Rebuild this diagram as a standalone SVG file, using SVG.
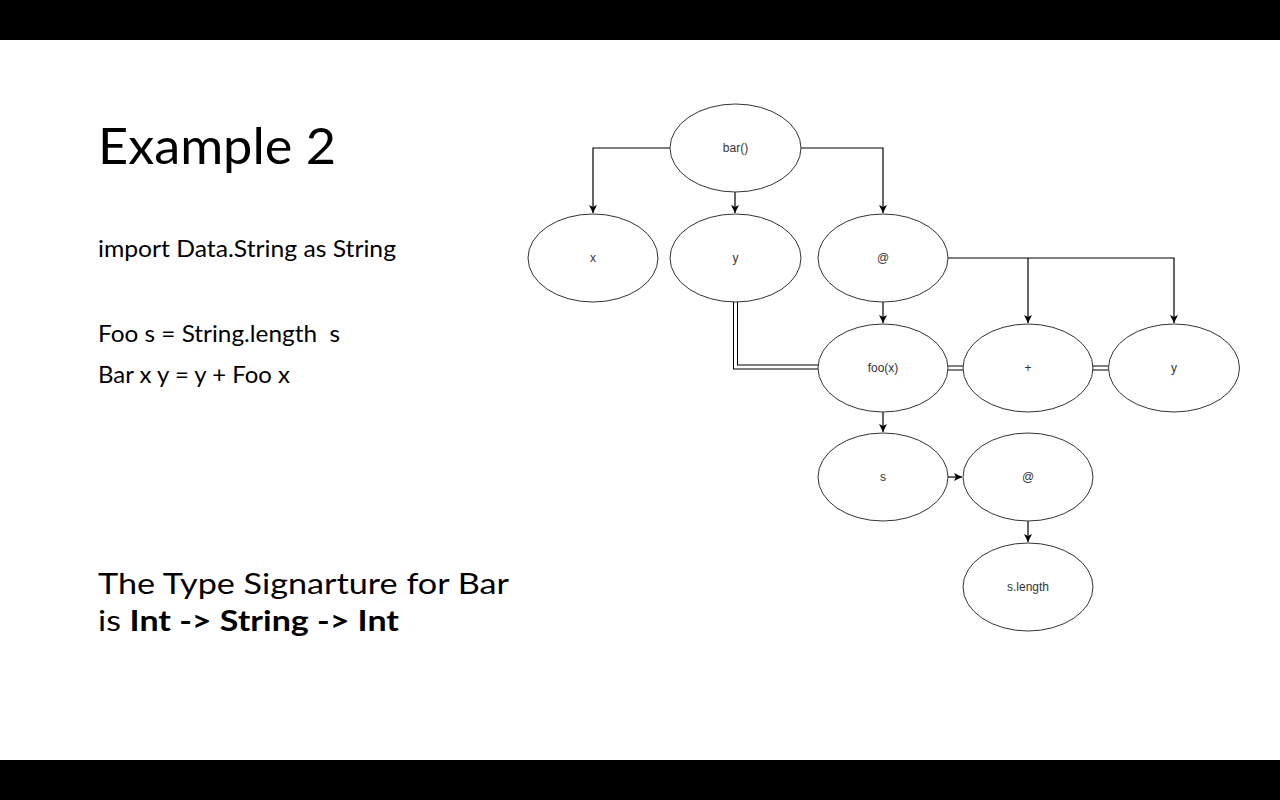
<svg xmlns="http://www.w3.org/2000/svg" width="1280" height="800" viewBox="0 0 1280 800">
  <style>
    .node ellipse { fill: #ffffff; stroke: #333333; stroke-width: 1; }
    .node text { font-family: "Liberation Sans", Arial, sans-serif; font-size: 12px; fill: #333333; text-anchor: middle; }
    .edge { fill: none; stroke: #000000; stroke-width: 1.2; }
    .dbl-outer { fill: none; stroke: #000000; stroke-width: 5; }
    .dbl-inner { fill: none; stroke: #ffffff; stroke-width: 3; }
    .slide { font-family: Lato, "Open Sans", "Liberation Sans", sans-serif; fill: #000000; }
  </style>
  <defs>
    <marker id="arrow" markerUnits="userSpaceOnUse" markerWidth="10" markerHeight="10" refX="9" refY="5" orient="auto">
      <path d="M1,1 L9,5 L1,9 L3,5 z" fill="#000000"/>
    </marker>
  </defs>
  <rect x="0" y="0" width="1280" height="800" fill="#ffffff"/>
  <rect x="0" y="0" width="1280" height="40" fill="#000000"/>
  <rect x="0" y="760" width="1280" height="40" fill="#000000"/>

  <g id="slide-text">
    <text class="slide" x="98" y="164" font-size="50" textLength="238" lengthAdjust="spacingAndGlyphs">Example 2</text>
    <text class="slide" x="98" y="257" font-size="24" textLength="298" lengthAdjust="spacingAndGlyphs">import Data.String as String</text>
    <text class="slide" x="98" y="342" font-size="24" textLength="242" lengthAdjust="spacingAndGlyphs" xml:space="preserve">Foo s = String.length  s</text>
    <text class="slide" x="98" y="383" font-size="24" textLength="192" lengthAdjust="spacingAndGlyphs">Bar x y = y + Foo x</text>
    <text class="slide" x="98" y="594" font-size="29" textLength="411" lengthAdjust="spacingAndGlyphs">The Type Signarture for Bar</text>
    <text class="slide" x="98" y="631" font-size="29" textLength="301" lengthAdjust="spacingAndGlyphs">is <tspan font-weight="bold">Int -&gt; String -&gt; Int</tspan></text>
  </g>

  <g id="connectors">
    <path class="edge" d="M670,148 H593 V213" marker-end="url(#arrow)"/>
    <path class="edge" d="M735,192 V213" marker-end="url(#arrow)"/>
    <path class="edge" d="M801,148 H883 V213" marker-end="url(#arrow)"/>
    <path class="edge" d="M948,258 H1174 V323" marker-end="url(#arrow)"/>
    <path class="edge" d="M1028,258 V323" marker-end="url(#arrow)"/>
    <path class="edge" d="M883,302 V323" marker-end="url(#arrow)"/>
    <path class="edge" d="M883,412 V432" marker-end="url(#arrow)"/>
    <path class="edge" d="M948,477 H962" marker-end="url(#arrow)"/>
    <path class="edge" d="M1028,521 V542" marker-end="url(#arrow)"/>
    <path class="dbl-outer" d="M735.5,302 V367 H818"/>
    <path class="dbl-inner" d="M735.5,302 V367 H818"/>
    <path class="dbl-outer" d="M947,368 H964"/>
    <path class="dbl-inner" d="M947,368 H964"/>
    <path class="dbl-outer" d="M1092,368 H1109"/>
    <path class="dbl-inner" d="M1092,368 H1109"/>
  </g>

  <g id="node-bar" class="node"><ellipse cx="735.5" cy="148" rx="65.5" ry="44"/><text x="735.5" y="152">bar()</text></g>
  <g id="node-x" class="node"><ellipse cx="593" cy="258" rx="65" ry="44"/><text x="593" y="262">x</text></g>
  <g id="node-y" class="node"><ellipse cx="735.5" cy="258" rx="65.5" ry="44"/><text x="735.5" y="262">y</text></g>
  <g id="node-at1" class="node"><ellipse cx="883" cy="258" rx="65" ry="44"/><text x="883" y="262">@</text></g>
  <g id="node-foo" class="node"><ellipse cx="883" cy="368" rx="65" ry="44"/><text x="883" y="372">foo(x)</text></g>
  <g id="node-plus" class="node"><ellipse cx="1028" cy="368" rx="65" ry="44"/><text x="1028" y="372">+</text></g>
  <g id="node-y2" class="node"><ellipse cx="1174" cy="368" rx="65.5" ry="44"/><text x="1174" y="372">y</text></g>
  <g id="node-s" class="node"><ellipse cx="883" cy="477" rx="65" ry="44"/><text x="883" y="481">s</text></g>
  <g id="node-at2" class="node"><ellipse cx="1028" cy="477" rx="65" ry="44"/><text x="1028" y="481">@</text></g>
  <g id="node-slength" class="node"><ellipse cx="1028" cy="587" rx="65" ry="44"/><text x="1028" y="591">s.length</text></g>
</svg>
